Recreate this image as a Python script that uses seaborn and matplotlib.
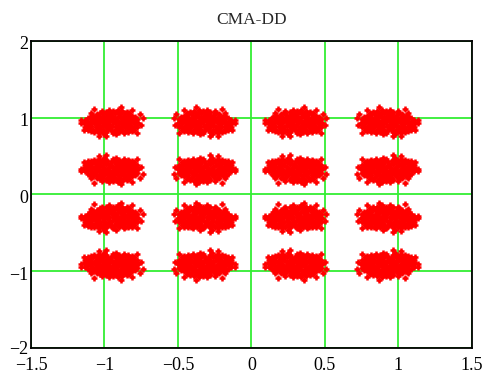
import matplotlib
matplotlib.use('Agg')
import matplotlib.pyplot as plt
import matplotlib.transforms as mtransforms
import pandas as pd
import seaborn as sns

# cluster centres (16-QAM after CMA-DD)
i_levels = [-0.95, -0.32, 0.30, 0.925]
q_levels = [0.945, 0.32, -0.30, -0.92]

jitter_dx = [
    -5, 3,
    -9, 1, 8,
    -12, -4, 5, 11,
    -14, -7, 0, 9, 14,
    -16, -10, -3, 4, 12,
    -13, -6, 2, 7, 15,
    -17, -9, -1, 5, 11,
    -15, -11, -4, 3, 9, 14,
    -18, -8, -2, 6, 13, 17,
    -14, -10, 0, 4, 10, 16,
    -16, -6, -1, 8, 12,
    -19, -12, -5, 2, 7, 15,
    -15, -9, -3, 5, 11, 18,
    -17, -11, -6, 1, 6, 13,
    -14, -8, -2, 4, 9, 16,
    -18, -10, -4, 3, 10, 14,
    -13, -7, 0, 7, 12, 17,
    -16, -11, -3, 2, 8, 15,
    -12, -5, 1, 6, 13,
    -15, -9, -2, 4, 11, 16,
    -13, -6, 0, 8, 14,
    -10, -3, 5, 11,
    -14, -7, 2, 9,
    -8, -1, 6, 12,
    -4, 3, 10,
    -7, 1, 7,
    -2, 4,
    -21, 20, -19, 21, 6, -4, 14, -12, 17, -9, -21, 19,
]
jitter_dy = [
    -16, -16,
    -14, -14, -14,
    -13, -13, -13, -13,
    -12, -12, -12, -12, -12,
    -11, -11, -11, -11, -11,
    -10, -10, -10, -10, -10,
    -8, -8, -8, -8, -8,
    -7, -7, -7, -7, -7, -7,
    -6, -6, -6, -6, -6, -6,
    -5, -5, -5, -5, -5, -5,
    -4, -4, -4, -4, -4,
    -2, -2, -2, -2, -2, -2,
    -1, -1, -1, -1, -1, -1,
    0, 0, 0, 0, 0, 0,
    1, 1, 1, 1, 1, 1,
    2, 2, 2, 2, 2, 2,
    4, 4, 4, 4, 4, 4,
    5, 5, 5, 5, 5, 5,
    6, 6, 6, 6, 6,
    7, 7, 7, 7, 7, 7,
    8, 8, 8, 8, 8,
    10, 10, 10, 10,
    11, 11, 11, 11,
    12, 12, 12, 12,
    13, 13, 13,
    14, 14, 14,
    16, 16,
    2, -4, -10, 5, 19, -19, 16, 17, -14, -18, -1, 10,
]

x_ticks = [-1.5, -1, -0.5, 0, 0.5, 1, 1.5]
y_ticks = [-2, -1, 0, 1, 2]
x_labels = ['\u22121.5', '\u22121', '\u22120.5', '0', '0.5', '1', '1.5']
y_labels = ['\u22122', '\u22121', '0', '1', '2']

# build the point table, mirroring the spread for alternate clusters
points = []
for r, q in enumerate(q_levels):
    for c, i in enumerate(i_levels):
        sx = -1 if c % 2 else 1
        sy = -1 if r % 2 else 1
        for dx, dy in zip(jitter_dx, jitter_dy):
            points.append((i + sx * dx / 100, q + sy * dy / 100))
df = pd.DataFrame(points, columns=['I', 'Q'])

sns.set_style('white')
plt.rcParams['font.family'] = ['Liberation Serif', 'DejaVu Serif']

fig = plt.figure(figsize=(4.88, 3.79), dpi=100)
ax = fig.add_axes([0.0635, 0.082, 0.9035, 0.81])

sns.scatterplot(data=df, x='I', y='Q', marker='+', color='red',
                s=24, linewidth=1.8, ax=ax, legend=False, zorder=3)

ax.set_xlim(-1.5, 1.5)
ax.set_ylim(-2, 2)
ax.set_xticks(x_ticks)
ax.set_yticks(y_ticks)
ax.set_xticklabels(x_labels)
ax.set_yticklabels(y_labels)
ax.tick_params(length=0, labelsize=13, colors='black')
ax.tick_params(axis='x', pad=6.5)
ax.tick_params(axis='y', pad=2)
# y labels sit a little below their grid line in the reference
shift = mtransforms.ScaledTranslation(0, -2 / 100, fig.dpi_scale_trans)
for lab in ax.get_yticklabels()[1:]:
    lab.set_transform(lab.get_transform() + shift)
ax.set_xlabel('')
ax.set_ylabel('')
ax.grid(True, color='#33ee33', linewidth=1.3)
ax.set_axisbelow(True)
for sp in ax.spines.values():
    sp.set_color('black')
    sp.set_linewidth(1.3)
    sp.set_zorder(5)

ax.set_title('CMA-DD', fontsize=12.5, pad=12)

fig.savefig('out.png', dpi=100)
